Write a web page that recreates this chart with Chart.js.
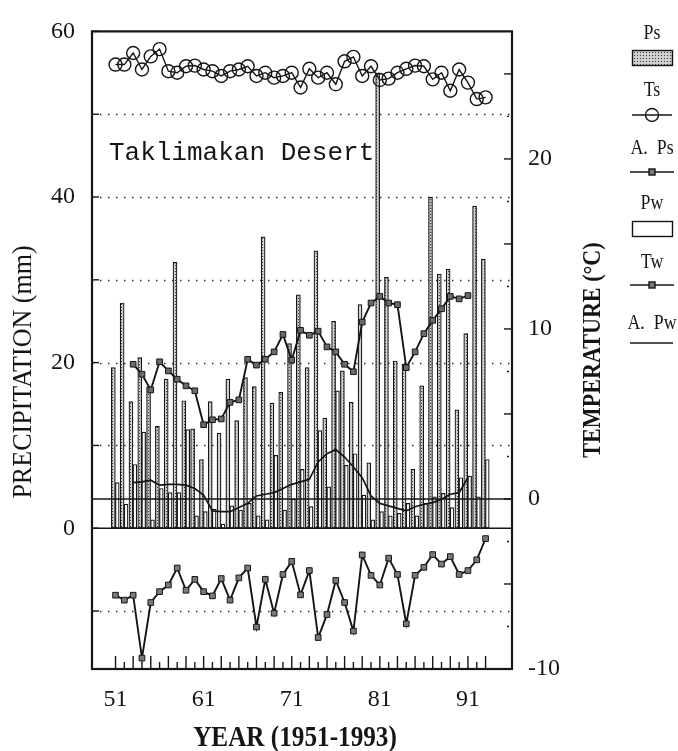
<!DOCTYPE html>
<html>
<head>
<meta charset="utf-8">
<script src="https://cdn.jsdelivr.net/npm/chart.js@4.4.1/dist/chart.umd.min.js"></script>
<style>
  html, body { margin: 0; padding: 0; background: #fff; }
  #wrap { width: 678px; height: 751px; }
</style>
</head>
<body>
<div id="wrap"><canvas id="chart"></canvas></div>
<script>
// yearly values (Taklimakan Desert, 1951-1993)
const years = [1951, 1952, 1953, 1954, 1955, 1956, 1957, 1958, 1959, 1960,
               1961, 1962, 1963, 1964, 1965, 1966, 1967, 1968, 1969, 1970,
               1971, 1972, 1973, 1974, 1975, 1976, 1977, 1978, 1979, 1980,
               1981, 1982, 1983, 1984, 1985, 1986, 1987, 1988, 1989, 1990,
               1991, 1992, 1993];
// summer precipitation (mm)
const ps = [19.4, 27.2, 15.3, 20.6, 17.1, 12.3, 18.0, 32.1, 15.4, 12.0,
            8.3, 15.3, 11.5, 18.0, 13.0, 18.2, 17.1, 35.2, 15.1, 16.4,
            22.3, 28.2, 19.4, 33.5, 13.3, 25.0, 19.0, 15.2, 27.0, 7.9,
            55.0, 30.3, 20.2, 19.8, 7.1, 17.2, 40.0, 30.7, 31.3, 14.3,
            23.5, 38.9, 32.5];
// winter precipitation (mm)
const pw = [5.5, 2.9, 7.7, 11.6, 1.0, 4.8, 4.3, 4.3, 11.9, 1.5,
            2.0, 2.3, 0.5, 2.7, 2.2, 3.0, 1.5, 1.0, 8.8, 2.2,
            3.5, 7.1, 2.6, 11.8, 5.0, 16.6, 7.6, 9.0, 4.0, 1.0,
            2.0, 1.5, 1.8, 3.0, 1.5, 3.0, 3.8, 4.2, 2.5, 6.1,
            6.3, 3.8, 8.3];
// summer temperature (deg C)
const ts = [25.55, 25.55, 26.23, 25.26, 26.03, 26.46, 25.16, 25.07, 25.45, 25.49,
            25.26, 25.16, 24.88, 25.16, 25.26, 25.45, 24.88, 25.07, 24.78, 24.88,
            25.07, 24.20, 25.30, 24.78, 25.07, 24.39, 25.74, 26.00, 24.88, 25.45,
            24.64, 24.72, 25.07, 25.30, 25.49, 25.45, 24.68, 25.07, 24.01, 25.26,
            24.49, 23.52, 23.62];
// winter temperature (deg C)
const tw = [-5.66, -5.95, -5.66, -9.36, -6.09, -5.45, -5.06, -4.06, -5.37, -4.73,
            -5.45, -5.70, -4.68, -5.95, -4.64, -4.06, -7.53, -4.73, -6.72, -4.44,
            -3.67, -5.64, -4.21, -8.15, -6.80, -4.79, -6.09, -7.77, -3.29, -4.49,
            -5.06, -3.48, -4.44, -7.34, -4.49, -4.02, -3.27, -3.83, -3.39, -4.44,
            -4.21, -3.58, -2.33];
// five-year running means, 1953-1991
const avgYears = years.slice(2, 41);
const aPs = [19.8, 18.6, 16.7, 20.1, 19.0, 18.0, 17.2, 16.6, 12.5, 13.1,
             13.2, 15.2, 15.5, 20.4, 19.7, 20.4, 21.3, 23.4, 20.3, 23.9,
             23.3, 23.8, 21.9, 21.3, 19.8, 18.9, 24.9, 27.2, 28.0, 27.2,
             27.0, 19.4, 21.3, 23.5, 25.1, 26.5, 28.0, 27.7, 28.1];
const aPw = [5.5, 5.6, 5.8, 5.2, 5.3, 5.3, 5.2, 4.8, 4.0, 2.1,
             2.0, 2.0, 2.5, 3.0, 3.9, 4.1, 4.3, 4.8, 5.3, 5.6,
             5.9, 8.0, 9.0, 9.5, 8.6, 7.4, 6.1, 3.9, 3.0, 2.7,
             2.4, 2.1, 2.6, 2.9, 3.1, 3.5, 4.1, 4.3, 6.1];

const mmTicks = [-10, 0, 10, 20, 30, 40, 50, 60];
const mmLabels = [0, 20, 40, 60];
const mmDotted = [-10, 10, 20, 30, 40, 50];
const tempTicks = [-10, -5, 0, 5, 10, 15, 20, 25];
const tempLabels = [-10, 0, 10, 20];
const yearLabels = [1951, 1961, 1971, 1981, 1991];

const INK = '#151515';
const SERIF = '"Liberation Serif", "DejaVu Serif", serif';

function makeStipple(ctx) {
  const c = document.createElement('canvas');
  c.width = 3; c.height = 3;
  const g = c.getContext('2d');
  g.fillStyle = '#cfcfcf'; g.fillRect(0, 0, 3, 3);
  g.fillStyle = '#3a3a3a'; g.fillRect(1, 1, 1, 1);
  return ctx.createPattern(c, 'repeat');
}

function seg(ctx, x1, y1, x2, y2) {
  ctx.beginPath(); ctx.moveTo(x1, y1); ctx.lineTo(x2, y2); ctx.stroke();
}

// text squeezed horizontally, like the condensed type of the original
function squeezed(ctx, text, x, y, rot, sx, font) {
  ctx.save();
  ctx.translate(x, y);
  ctx.rotate(rot);
  ctx.scale(sx, 1);
  ctx.font = font;
  ctx.fillStyle = INK;
  ctx.textAlign = 'center';
  ctx.textBaseline = 'middle';
  ctx.fillText(text, 0, 0);
  ctx.restore();
}

const canvas = document.getElementById('chart');
const ctx = canvas.getContext('2d');
const stipple = makeStipple(ctx);

const frame = {
  id: 'frame',
  beforeDatasetsDraw(chart) {
    const { ctx, chartArea: a, scales: { yP } } = chart;
    ctx.save();
    ctx.strokeStyle = '#333';
    ctx.lineWidth = 1.3;
    ctx.setLineDash([1.5, 6.5]);
    mmDotted.forEach(v => {
      const y = Math.round(yP.getPixelForValue(v)) + 0.5;
      seg(ctx, a.left, y, a.right, y);
    });
    ctx.setLineDash([]);
    ctx.font = '26px "Liberation Mono", "DejaVu Sans Mono", monospace';
    ctx.fillStyle = INK;
    ctx.textBaseline = 'alphabetic';
    ctx.fillText('Taklimakan Desert', 109, 160);
    ctx.restore();
  },
  afterDatasetsDraw(chart) {
    const { ctx, chartArea: a, scales: { x, yP, yT } } = chart;
    ctx.save();
    ctx.strokeStyle = INK;
    // zero lines of both value axes
    ctx.lineWidth = 1.5;
    [yP.getPixelForValue(0), yT.getPixelForValue(0)].forEach(y => seg(ctx, a.left, y, a.right, y));
    // inward tick marks
    ctx.lineWidth = 1.4;
    mmTicks.forEach(v => { const y = yP.getPixelForValue(v); seg(ctx, a.left, y, a.left + 7, y); });
    tempTicks.forEach(v => {
      const y = yT.getPixelForValue(v);
      seg(ctx, a.right - 8, y, a.right, y);
      const m = yT.getPixelForValue(v + 2.5);
      if (v + 2.5 < yT.max) seg(ctx, a.right - 5, m, a.right - 3, m);
    });
    years.forEach(yr => {
      const px = x.getPixelForValue(yr);
      seg(ctx, px, a.bottom, px, a.bottom - (yr % 2 ? 13 : 7));
    });
    // box
    ctx.lineWidth = 2.2;
    ctx.strokeRect(a.left, a.top, a.right - a.left, a.bottom - a.top);
    ctx.restore();
  },
  afterDraw(chart) {
    const { ctx } = chart;
    ctx.save();
    squeezed(ctx, 'YEAR (1951-1993)', 295, 738, 0, 0.84, 'bold 30px ' + SERIF);
    squeezed(ctx, 'PRECIPITATION (mm)', 24, 372, -Math.PI / 2, 0.93, '28px ' + SERIF);
    squeezed(ctx, 'TEMPERATURE (°C)', 593, 350, -Math.PI / 2, 0.85, 'bold 26px ' + SERIF);

    // legend, stacked down the right margin
    const cx = 652;
    const label = (t, y) => squeezed(ctx, t, cx, y, 0, 0.85, '21px ' + SERIF);
    ctx.strokeStyle = INK;
    ctx.lineWidth = 1.4;
    label('Ps', 33);
    ctx.fillStyle = stipple;
    ctx.fillRect(632, 50, 40, 15);
    ctx.strokeRect(632.5, 50.5, 40, 15);
    label('Ts', 90);
    seg(ctx, 632, 115, 672, 115);
    ctx.beginPath(); ctx.arc(cx, 115, 6.5, 0, Math.PI * 2); ctx.stroke();
    label('A.  Ps', 148);
    seg(ctx, 630, 172, 674, 172);
    ctx.fillStyle = '#7a7a7a';
    ctx.fillRect(cx - 3, 169, 6, 6); ctx.strokeRect(cx - 3, 169, 6, 6);
    label('Pw', 203);
    ctx.fillStyle = '#fff';
    ctx.fillRect(632, 221, 40, 15);
    ctx.strokeRect(632.5, 221.5, 40, 15);
    label('Tw', 262);
    seg(ctx, 630, 285, 674, 285);
    ctx.fillStyle = '#7a7a7a';
    ctx.fillRect(cx - 3, 282, 6, 6); ctx.strokeRect(cx - 3, 282, 6, 6);
    label('A.  Pw', 323);
    ctx.lineWidth = 1.6;
    seg(ctx, 630, 343, 673, 343);
    ctx.restore();
  }
};

const tickFont = { family: SERIF, size: 24 };

new Chart(ctx, {
  type: 'bar',
  data: {
    datasets: [
      {
        type: 'line', label: 'Ts', yAxisID: 'yT', order: 1,
        data: years.map((yr, i) => ({ x: yr, y: ts[i] })),
        borderColor: INK, borderWidth: 1.4, tension: 0,
        pointStyle: 'circle', pointRadius: 6.5,
        pointBackgroundColor: 'rgba(0,0,0,0)', pointBorderColor: INK, pointBorderWidth: 1.4
      },
      {
        type: 'line', label: 'Tw', yAxisID: 'yT', order: 2,
        data: years.map((yr, i) => ({ x: yr, y: tw[i] })),
        borderColor: INK, borderWidth: 1.9, tension: 0,
        pointStyle: 'rect', pointRadius: 4,
        pointBackgroundColor: '#7a7a7a', pointBorderColor: INK, pointBorderWidth: 1
      },
      {
        type: 'line', label: 'A. Ps', yAxisID: 'yP', order: 3,
        data: avgYears.map((yr, i) => ({ x: yr, y: aPs[i] })),
        borderColor: INK, borderWidth: 1.9, tension: 0,
        pointStyle: 'rect', pointRadius: 4,
        pointBackgroundColor: '#6a6a6a', pointBorderColor: INK, pointBorderWidth: 1
      },
      {
        type: 'line', label: 'A. Pw', yAxisID: 'yP', order: 4,
        data: avgYears.map((yr, i) => ({ x: yr, y: aPw[i] })),
        borderColor: INK, borderWidth: 1.7, tension: 0, pointRadius: 0
      },
      {
        label: 'Pw', yAxisID: 'yP', order: 5,
        data: years.map((yr, i) => ({ x: yr + 0.2, y: pw[i] })),
        backgroundColor: '#fff', borderColor: INK, borderWidth: 1.2,
        borderSkipped: false, barThickness: 3.8, grouped: false
      },
      {
        label: 'Ps', yAxisID: 'yP', order: 6,
        data: years.map((yr, i) => ({ x: yr - 0.25, y: ps[i] })),
        backgroundColor: stipple, borderColor: INK, borderWidth: 1.2,
        borderSkipped: false, barThickness: 4, grouped: false
      }
    ]
  },
  options: {
    responsive: true,
    maintainAspectRatio: false,
    animation: false,
    layout: { padding: { top: 21, left: 0, right: 0, bottom: 0 } },
    plugins: { legend: { display: false }, tooltip: { enabled: false } },
    scales: {
      x: {
        type: 'linear', min: 1948.33, max: 1996, offset: false,
        grid: { display: false, drawTicks: false }, border: { display: false },
        afterBuildTicks: s => { s.ticks = years.map(v => ({ value: v })); },
        afterFit: s => { s.height = 82; },
        ticks: {
          autoSkip: false, maxRotation: 0, minRotation: 0, padding: 16,
          color: INK, font: tickFont,
          callback: v => yearLabels.includes(v) ? String(v).slice(2) : ''
        }
      },
      yP: {
        type: 'linear', position: 'left', min: -17, max: 60,
        grid: { display: false, drawTicks: false }, border: { display: false },
        afterBuildTicks: s => { s.ticks = mmTicks.map(v => ({ value: v })); },
        afterFit: s => { s.width = 92; },
        ticks: {
          padding: 17, color: INK, font: tickFont,
          callback: v => mmLabels.includes(v) ? String(v) : ''
        }
      },
      yT: {
        type: 'linear', position: 'right', min: -10, max: 27.5,
        grid: { display: false, drawTicks: false }, border: { display: false },
        afterBuildTicks: s => { s.ticks = tempTicks.map(v => ({ value: v })); },
        afterFit: s => { s.width = 166; },
        ticks: {
          padding: 16, color: INK, font: tickFont,
          callback: v => tempLabels.includes(v) ? String(v) : ''
        }
      }
    }
  },
  plugins: [frame]
});
</script>
</body>
</html>
